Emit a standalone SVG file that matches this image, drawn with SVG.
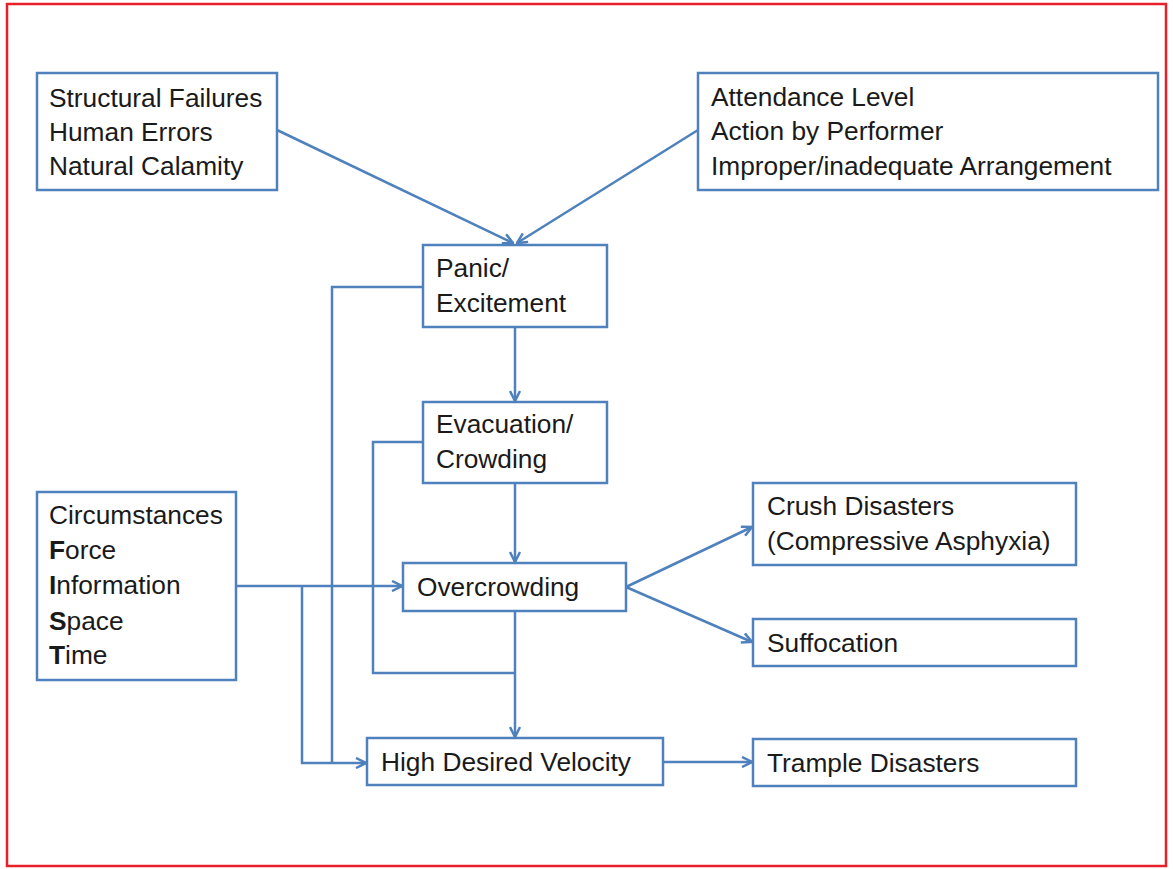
<svg xmlns="http://www.w3.org/2000/svg" width="1173" height="869" viewBox="0 0 1173 869">
<style>
.box{fill:#ffffff;stroke:#4F81BD;stroke-width:2.5}
.t{font-family:"Liberation Sans",Arial,sans-serif;font-size:26.3px;fill:#1a1a1a}
.c{fill:none;stroke:#4F81BD;stroke-width:2.5}
.a{marker-end:url(#ah)}
</style>
<defs>
<marker id="ah" viewBox="0 0 12 12" refX="11" refY="6" markerWidth="12" markerHeight="12" markerUnits="userSpaceOnUse" orient="auto">
<path d="M1,1 L11,6 L1,11" fill="none" stroke="#4F81BD" stroke-width="2.5"/>
</marker>
</defs>
<rect x="0" y="0" width="1173" height="869" fill="#ffffff"/>
<rect x="7" y="4" width="1159" height="862" fill="none" stroke="#E8202A" stroke-width="2.5"/>
<g id="connectors">
<path class="c a" d="M277,130 L513,243"/>
<path class="c a" d="M698,130 L517,243"/>
<path class="c a" d="M515,327 L515,401"/>
<path class="c a" d="M515,483 L515,562"/>
<path class="c a" d="M515,611 L515,737"/>
<path class="c a" d="M236,586 L402,586"/>
<path class="c a" d="M302,586 L302,763 L366,763"/>
<path class="c" d="M423,287 L332,287 L332,763"/>
<path class="c" d="M423,442 L373,442 L373,673 L515,673"/>
<path class="c a" d="M626,587 L752,527"/>
<path class="c a" d="M626,587 L752,642"/>
<path class="c a" d="M663,762 L752,762"/>
</g>
<g id="node-causes1">
<rect class="box" x="37" y="73" width="240" height="117"/>
<text class="t" x="49" y="107">Structural Failures</text>
<text class="t" x="49" y="141">Human Errors</text>
<text class="t" x="49" y="175">Natural Calamity</text>
</g>
<g id="node-causes2">
<rect class="box" x="698" y="73" width="460" height="117"/>
<text class="t" x="711" y="106">Attendance Level</text>
<text class="t" x="711" y="140">Action by Performer</text>
<text class="t" x="711" y="175">Improper/inadequate Arrangement</text>
</g>
<g id="node-panic">
<rect class="box" x="423" y="245" width="184" height="82"/>
<text class="t" x="436" y="277">Panic/</text>
<text class="t" x="436" y="312">Excitement</text>
</g>
<g id="node-evacuation">
<rect class="box" x="423" y="402" width="184" height="81"/>
<text class="t" x="436" y="433">Evacuation/</text>
<text class="t" x="436" y="468">Crowding</text>
</g>
<g id="node-circumstances">
<rect class="box" x="37" y="492" width="199" height="188"/>
<text class="t" x="49" y="524">Circumstances</text>
<text class="t" x="49" y="559"><tspan font-weight="bold">F</tspan>orce</text>
<text class="t" x="49" y="594"><tspan font-weight="bold">I</tspan>nformation</text>
<text class="t" x="49" y="630"><tspan font-weight="bold">S</tspan>pace</text>
<text class="t" x="49" y="664"><tspan font-weight="bold">T</tspan>ime</text>
</g>
<g id="node-overcrowding">
<rect class="box" x="403" y="563" width="223" height="48"/>
<text class="t" x="417" y="596">Overcrowding</text>
</g>
<g id="node-hdv">
<rect class="box" x="367" y="738" width="296" height="47"/>
<text class="t" x="381" y="771">High Desired Velocity</text>
</g>
<g id="node-crush">
<rect class="box" x="753" y="483" width="323" height="82"/>
<text class="t" x="767" y="515">Crush Disasters</text>
<text class="t" x="767" y="550">(Compressive Asphyxia)</text>
</g>
<g id="node-suffocation">
<rect class="box" x="753" y="619" width="323" height="47"/>
<text class="t" x="767" y="652">Suffocation</text>
</g>
<g id="node-trample">
<rect class="box" x="753" y="739" width="323" height="47"/>
<text class="t" x="767" y="772">Trample Disasters</text>
</g>
</svg>
